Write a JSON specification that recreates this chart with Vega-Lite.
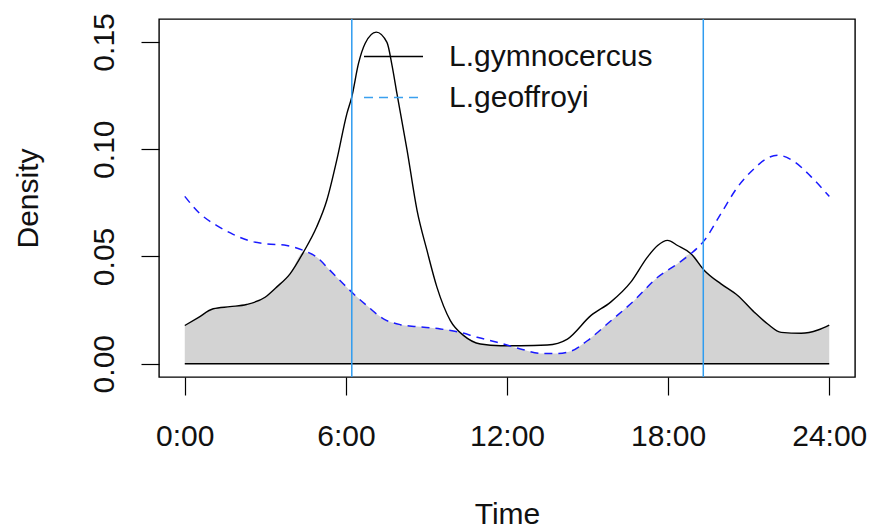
{
  "$schema": "https://vega.github.io/schema/vega-lite/v6.json",
  "width": 696,
  "height": 358,
  "autosize": {"type": "none"},
  "padding": {"left": 159, "top": 19, "right": 14, "bottom": 151},
  "background": "white",
  "config": {
    "view": {"stroke": "#000000", "strokeWidth": 1.4},
    "font": "Liberation Sans",
    "axis": {"grid": false, "domain": false, "tickColor": "#000", "tickWidth": 1.2, "tickSize": 18,
             "labelFont": "Liberation Sans", "labelFontSize": 30, "labelColor": "#111",
             "titleFont": "Liberation Sans", "titleFontSize": 30, "titleFontWeight": "normal", "titleColor": "#111"}
  },
  "datasets": {
    "curves": [
      {"species": "L.gymnocercus", "t": 0, "d": 0.0178},
      {"species": "L.gymnocercus", "t": 0.5, "d": 0.0215},
      {"species": "L.gymnocercus", "t": 1.06, "d": 0.0256},
      {"species": "L.gymnocercus", "t": 1.68, "d": 0.0266},
      {"species": "L.gymnocercus", "t": 2.3, "d": 0.0276},
      {"species": "L.gymnocercus", "t": 2.99, "d": 0.031},
      {"species": "L.gymnocercus", "t": 3.42, "d": 0.0357},
      {"species": "L.gymnocercus", "t": 3.92, "d": 0.0419},
      {"species": "L.gymnocercus", "t": 4.42, "d": 0.052},
      {"species": "L.gymnocercus", "t": 4.91, "d": 0.0637},
      {"species": "L.gymnocercus", "t": 5.29, "d": 0.0762},
      {"species": "L.gymnocercus", "t": 5.66, "d": 0.0949},
      {"species": "L.gymnocercus", "t": 6.04, "d": 0.1167},
      {"species": "L.gymnocercus", "t": 6.22, "d": 0.1244},
      {"species": "L.gymnocercus", "t": 6.47, "d": 0.14},
      {"species": "L.gymnocercus", "t": 6.72, "d": 0.1494},
      {"species": "L.gymnocercus", "t": 7.13, "d": 0.1546},
      {"species": "L.gymnocercus", "t": 7.53, "d": 0.1498},
      {"species": "L.gymnocercus", "t": 7.72, "d": 0.139},
      {"species": "L.gymnocercus", "t": 7.9, "d": 0.126},
      {"species": "L.gymnocercus", "t": 8.28, "d": 0.0995},
      {"species": "L.gymnocercus", "t": 8.65, "d": 0.0715},
      {"species": "L.gymnocercus", "t": 9.02, "d": 0.0528},
      {"species": "L.gymnocercus", "t": 9.39, "d": 0.0357},
      {"species": "L.gymnocercus", "t": 9.89, "d": 0.0201},
      {"species": "L.gymnocercus", "t": 10.39, "d": 0.0131},
      {"species": "L.gymnocercus", "t": 11.01, "d": 0.0092},
      {"species": "L.gymnocercus", "t": 11.76, "d": 0.0084},
      {"species": "L.gymnocercus", "t": 12.5, "d": 0.0084},
      {"species": "L.gymnocercus", "t": 13.5, "d": 0.0087},
      {"species": "L.gymnocercus", "t": 14.25, "d": 0.0115},
      {"species": "L.gymnocercus", "t": 15.12, "d": 0.0224},
      {"species": "L.gymnocercus", "t": 15.86, "d": 0.0287},
      {"species": "L.gymnocercus", "t": 16.61, "d": 0.038},
      {"species": "L.gymnocercus", "t": 17.23, "d": 0.0497},
      {"species": "L.gymnocercus", "t": 17.61, "d": 0.0551},
      {"species": "L.gymnocercus", "t": 17.98, "d": 0.0575},
      {"species": "L.gymnocercus", "t": 18.35, "d": 0.0551},
      {"species": "L.gymnocercus", "t": 18.85, "d": 0.0513},
      {"species": "L.gymnocercus", "t": 19.35, "d": 0.0435},
      {"species": "L.gymnocercus", "t": 19.97, "d": 0.0372},
      {"species": "L.gymnocercus", "t": 20.59, "d": 0.0318},
      {"species": "L.gymnocercus", "t": 21.21, "d": 0.024},
      {"species": "L.gymnocercus", "t": 21.71, "d": 0.0185},
      {"species": "L.gymnocercus", "t": 22.21, "d": 0.0146},
      {"species": "L.gymnocercus", "t": 22.96, "d": 0.0142},
      {"species": "L.gymnocercus", "t": 23.58, "d": 0.0157},
      {"species": "L.gymnocercus", "t": 24, "d": 0.018},
      {"species": "L.geoffroyi", "t": 0, "d": 0.078},
      {"species": "L.geoffroyi", "t": 0.56, "d": 0.07},
      {"species": "L.geoffroyi", "t": 1.18, "d": 0.0645},
      {"species": "L.geoffroyi", "t": 1.8, "d": 0.0603},
      {"species": "L.geoffroyi", "t": 2.43, "d": 0.0572},
      {"species": "L.geoffroyi", "t": 3.05, "d": 0.0559},
      {"species": "L.geoffroyi", "t": 3.8, "d": 0.0551},
      {"species": "L.geoffroyi", "t": 4.42, "d": 0.0528},
      {"species": "L.geoffroyi", "t": 4.91, "d": 0.0497},
      {"species": "L.geoffroyi", "t": 5.41, "d": 0.0435},
      {"species": "L.geoffroyi", "t": 5.91, "d": 0.0372},
      {"species": "L.geoffroyi", "t": 6.28, "d": 0.0326},
      {"species": "L.geoffroyi", "t": 6.78, "d": 0.0271},
      {"species": "L.geoffroyi", "t": 7.4, "d": 0.0209},
      {"species": "L.geoffroyi", "t": 8.03, "d": 0.0182},
      {"species": "L.geoffroyi", "t": 8.65, "d": 0.0173},
      {"species": "L.geoffroyi", "t": 9.52, "d": 0.0162},
      {"species": "L.geoffroyi", "t": 10.26, "d": 0.0146},
      {"species": "L.geoffroyi", "t": 10.89, "d": 0.0123},
      {"species": "L.geoffroyi", "t": 11.63, "d": 0.01},
      {"species": "L.geoffroyi", "t": 12.5, "d": 0.0069},
      {"species": "L.geoffroyi", "t": 13.25, "d": 0.0048},
      {"species": "L.geoffroyi", "t": 13.8, "d": 0.0047},
      {"species": "L.geoffroyi", "t": 14.37, "d": 0.0058},
      {"species": "L.geoffroyi", "t": 14.99, "d": 0.0107},
      {"species": "L.geoffroyi", "t": 15.74, "d": 0.0186},
      {"species": "L.geoffroyi", "t": 16.73, "d": 0.0294},
      {"species": "L.geoffroyi", "t": 17.61, "d": 0.0403},
      {"species": "L.geoffroyi", "t": 18.35, "d": 0.0466},
      {"species": "L.geoffroyi", "t": 18.85, "d": 0.0513},
      {"species": "L.geoffroyi", "t": 19.35, "d": 0.0575},
      {"species": "L.geoffroyi", "t": 19.97, "d": 0.07},
      {"species": "L.geoffroyi", "t": 20.59, "d": 0.0824},
      {"species": "L.geoffroyi", "t": 21.21, "d": 0.091},
      {"species": "L.geoffroyi", "t": 21.65, "d": 0.0955},
      {"species": "L.geoffroyi", "t": 22.09, "d": 0.0972},
      {"species": "L.geoffroyi", "t": 22.71, "d": 0.0941},
      {"species": "L.geoffroyi", "t": 23.33, "d": 0.0871},
      {"species": "L.geoffroyi", "t": 24, "d": 0.078}
    ],
    "overlap": [
      {"t": 0, "d": 0.0178}, {"t": 0.5, "d": 0.0215}, {"t": 1.06, "d": 0.0256}, {"t": 1.68, "d": 0.0266},
      {"t": 2.3, "d": 0.0276}, {"t": 2.99, "d": 0.031}, {"t": 3.42, "d": 0.0357}, {"t": 3.92, "d": 0.0419},
      {"t": 4.42, "d": 0.052}, {"t": 4.91, "d": 0.0497}, {"t": 5.41, "d": 0.0435}, {"t": 5.91, "d": 0.0372},
      {"t": 6.28, "d": 0.0326}, {"t": 6.78, "d": 0.0271}, {"t": 7.4, "d": 0.0209}, {"t": 8.03, "d": 0.0182},
      {"t": 8.65, "d": 0.0173}, {"t": 9.52, "d": 0.0162}, {"t": 10.2, "d": 0.0148}, {"t": 10.39, "d": 0.0131},
      {"t": 11.01, "d": 0.0092}, {"t": 11.76, "d": 0.0084}, {"t": 12.0, "d": 0.0082}, {"t": 12.5, "d": 0.0069},
      {"t": 13.25, "d": 0.0048}, {"t": 13.8, "d": 0.0047}, {"t": 14.37, "d": 0.0058}, {"t": 14.99, "d": 0.0107},
      {"t": 15.74, "d": 0.0186}, {"t": 16.73, "d": 0.0294}, {"t": 17.61, "d": 0.0403}, {"t": 18.35, "d": 0.0466},
      {"t": 18.85, "d": 0.0513}, {"t": 19.35, "d": 0.0435}, {"t": 19.97, "d": 0.0372}, {"t": 20.59, "d": 0.0318},
      {"t": 21.21, "d": 0.024}, {"t": 21.71, "d": 0.0185}, {"t": 22.21, "d": 0.0146}, {"t": 22.96, "d": 0.0142},
      {"t": 23.58, "d": 0.0157}, {"t": 24, "d": 0.018}
    ],
    "sun": [{"event": "sunrise", "t": 6.22}, {"event": "sunset", "t": 19.31}]
  },
  "layer": [
    {
      "data": {"name": "overlap"},
      "mark": {"type": "area", "color": "#d3d3d3", "interpolate": "monotone"},
      "encoding": {
        "x": {"field": "t", "type": "quantitative", "scale": {"domain": [-0.96, 24.96], "nice": false, "zero": false},
              "axis": {"values": [0, 6, 12, 18, 24], "labelExpr": "datum.value + ':00'", "labelBaseline": "alphabetic",
                       "labelPadding": 50, "labelFlush": false, "title": "Time", "titleBaseline": "alphabetic", "titleY": 146, "titleX": 348}},
        "y": {"field": "d", "type": "quantitative", "scale": {"domain": [-0.0062, 0.1607], "nice": false, "zero": false},
              "axis": {"values": [0, 0.05, 0.1, 0.15], "format": ".2f", "labelAngle": -90, "labelAlign": "center", "labelBaseline": "alphabetic",
                       "labelPadding": 28, "labelFlush": false, "title": "Density", "titleAngle": 270, "titleAlign": "center",
                       "titleBaseline": "alphabetic", "titleX": -122, "titleY": 179}},
        "y2": {"datum": 0}
      }
    },
    {
      "data": {"values": [{}]},
      "mark": {"type": "rule", "color": "#000", "strokeWidth": 1.4},
      "encoding": {"x": {"datum": 0, "type": "quantitative"}, "x2": {"datum": 24}, "y": {"datum": 0, "type": "quantitative"}}
    },
    {
      "data": {"name": "curves"},
      "transform": [{"filter": "datum.species === 'L.gymnocercus'"}],
      "mark": {"type": "line", "color": "#000", "strokeWidth": 1.4, "interpolate": "monotone"},
      "encoding": {"x": {"field": "t", "type": "quantitative"}, "y": {"field": "d", "type": "quantitative"}}
    },
    {
      "data": {"name": "curves"},
      "transform": [{"filter": "datum.species === 'L.geoffroyi'"}],
      "mark": {"type": "line", "color": "#1a1aff", "strokeWidth": 1.5, "strokeDash": [8, 6], "interpolate": "monotone"},
      "encoding": {"x": {"field": "t", "type": "quantitative"}, "y": {"field": "d", "type": "quantitative"}}
    },
    {
      "data": {"name": "sun"},
      "mark": {"type": "rule", "color": "#2f9cf0", "strokeWidth": 1.5},
      "encoding": {"x": {"field": "t", "type": "quantitative"}}
    },
    {
      "data": {"name": "curves"},
      "mark": {"type": "line", "opacity": 0},
      "encoding": {
        "x": {"field": "t", "type": "quantitative"},
        "y": {"field": "d", "type": "quantitative"},
        "color": {"field": "species", "type": "nominal",
                  "scale": {"domain": ["L.gymnocercus", "L.geoffroyi"], "range": ["#000000", "#3aa0ef"]},
                  "legend": {"orient": "none", "legendX": 204, "legendY": 17, "title": null, "symbolType": "stroke",
                             "symbolSize": 3481, "symbolStrokeWidth": 1.5, "symbolOpacity": 1, "labelFont": "Liberation Sans",
                             "labelFontSize": 30, "labelColor": "#111", "labelOffset": 25, "padding": 0, "rowPadding": 0,
                             "clipHeight": 41, "labelLimit": 400}},
        "strokeDash": {"field": "species", "type": "nominal",
                       "scale": {"domain": ["L.gymnocercus", "L.geoffroyi"], "range": [[1, 0], [9, 6]]}}
      }
    }
  ]
}
